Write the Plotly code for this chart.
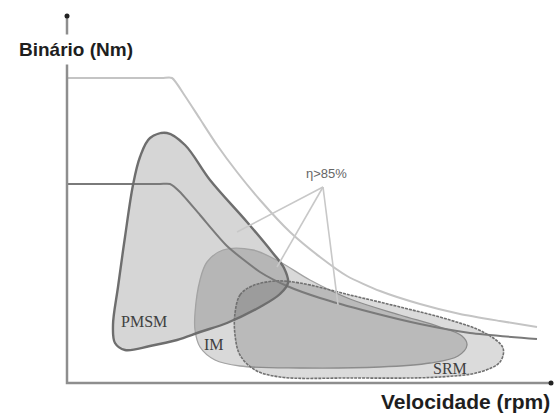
import plotly.graph_objects as go

# Torque-speed envelopes (speed and torque in arbitrary units)
envelope_speed = [0, 95, 105, 118, 133, 150, 170, 193, 223, 253, 280, 313, 353, 393, 433, 470]
envelope_torque = [305, 305, 305, 287, 264, 238, 211, 183, 151, 126, 107, 92, 79, 69, 62, 56]

rated_speed = [0, 93, 103, 113, 133, 160, 193, 220, 253, 303, 353, 403, 470]
rated_torque = [199, 199, 199, 191, 168, 137, 111, 97, 85, 71, 59, 50, 44]

# High-efficiency regions (eta > 85 %) of each machine type, as closed contours
pmsm_speed = [133, 160, 193, 213, 221, 217, 205, 180, 143, 118, 100, 83, 73, 66, 58, 51, 46, 48, 58, 83, 110, 133]
pmsm_torque = [51, 60, 76, 89, 100, 115, 131, 161, 203, 238, 250, 245, 226, 198, 146, 96, 58, 40, 33, 37, 43, 51]

im_speed = [128, 133, 140, 156, 186, 213, 243, 283, 333, 373, 395, 400, 391, 363, 313, 233, 173, 148, 133, 128, 128]
im_torque = [70, 103, 121, 133, 133, 121, 103, 84, 68, 56, 47, 38, 27, 20, 16, 15, 17, 23, 36, 53, 70]

srm_speed = [168, 173, 185, 208, 233, 283, 333, 383, 418, 436, 433, 413, 373, 283, 213, 188, 173, 168, 168]
srm_torque = [70, 88, 97, 102, 100, 88, 76, 63, 50, 35, 21, 11, 6, 5, 6, 13, 28, 48, 70]

region_labels = ["PMSM", "IM", "SRM"]
label_speed = [77, 147, 383]
label_torque = [62, 39, 15]

# Leader lines from the efficiency note to each region
note_text = "η>85%"
note_speed, note_torque = 259, 210
leader_apex = (256, 196)
leader_end_speed = [170, 210, 271]
leader_end_torque = [151, 116, 78]

y_title = "Binário (Nm)"
x_title = "Velocidade (rpm)"

fig = go.Figure()

# Filled regions
fig.add_trace(go.Scatter(x=pmsm_speed, y=pmsm_torque, mode="lines", fill="toself",
                         fillcolor="rgba(0,0,0,0.16)", line=dict(color="rgba(0,0,0,0)", width=0, shape="spline"),
                         hoverinfo="skip"))
fig.add_trace(go.Scatter(x=im_speed, y=im_torque, mode="lines", fill="toself",
                         fillcolor="rgba(0,0,0,0.15)", line=dict(color="#a3a3a3", width=1.3, shape="spline"),
                         hoverinfo="skip"))
fig.add_trace(go.Scatter(x=srm_speed, y=srm_torque, mode="lines", fill="toself",
                         fillcolor="rgba(0,0,0,0.14)", line=dict(color="#707070", width=1.6, shape="spline", dash="3px,1px"),
                         hoverinfo="skip"))

# Torque-speed curves
fig.add_trace(go.Scatter(x=envelope_speed, y=envelope_torque, mode="lines",
                         line=dict(color="#c4c4c4", width=2, shape="spline", smoothing=0.6), hoverinfo="skip"))
fig.add_trace(go.Scatter(x=rated_speed, y=rated_torque, mode="lines",
                         line=dict(color="#7a7a7a", width=2, shape="spline", smoothing=0.6), hoverinfo="skip"))

# PMSM outline on top
fig.add_trace(go.Scatter(x=pmsm_speed, y=pmsm_torque, mode="lines",
                         line=dict(color="#6e6e6e", width=2.4, shape="spline"), hoverinfo="skip"))

# Leader lines
for sx, sy in zip(leader_end_speed, leader_end_torque):
    fig.add_trace(go.Scatter(x=[leader_apex[0], sx], y=[leader_apex[1], sy], mode="lines",
                             line=dict(color="#c8c8c8", width=1.6), hoverinfo="skip"))

# Axes with end dots
fig.add_trace(go.Scatter(x=[0, 0, 484], y=[367, 0, 0], mode="lines",
                         line=dict(color="#8e8e8e", width=2.5), hoverinfo="skip"))
fig.add_trace(go.Scatter(x=[0, 484], y=[367, 0], mode="markers",
                         marker=dict(color="#222222", size=5), hoverinfo="skip"))

for txt, sx, sy in zip(region_labels, label_speed, label_torque):
    fig.add_annotation(x=sx, y=sy, text=txt, showarrow=False,
                       font=dict(family="Liberation Serif", size=16, color="#404040"))

fig.add_annotation(x=note_speed, y=note_torque, text=note_text, showarrow=False,
                   font=dict(family="Liberation Sans", size=13, color="#666666"))

fig.add_annotation(x=9, y=334, text="<b>" + y_title + "</b>", showarrow=False,
                   bgcolor="white", borderpad=4,
                   font=dict(family="Liberation Sans", size=19, color="#1e1e1e"))
fig.add_annotation(x=485, y=-18, text="<b>" + x_title + "</b>", showarrow=False, xanchor="right",
                   font=dict(family="Liberation Sans", size=21, color="#1e1e1e"))

fig.update_layout(
    width=555, height=419, margin=dict(l=0, r=0, t=0, b=0),
    paper_bgcolor="white", plot_bgcolor="white", showlegend=False,
    xaxis=dict(range=[-67, 488], visible=False, fixedrange=True),
    yaxis=dict(range=[-36, 383], visible=False, fixedrange=True),
)

fig.write_html("out.html")
